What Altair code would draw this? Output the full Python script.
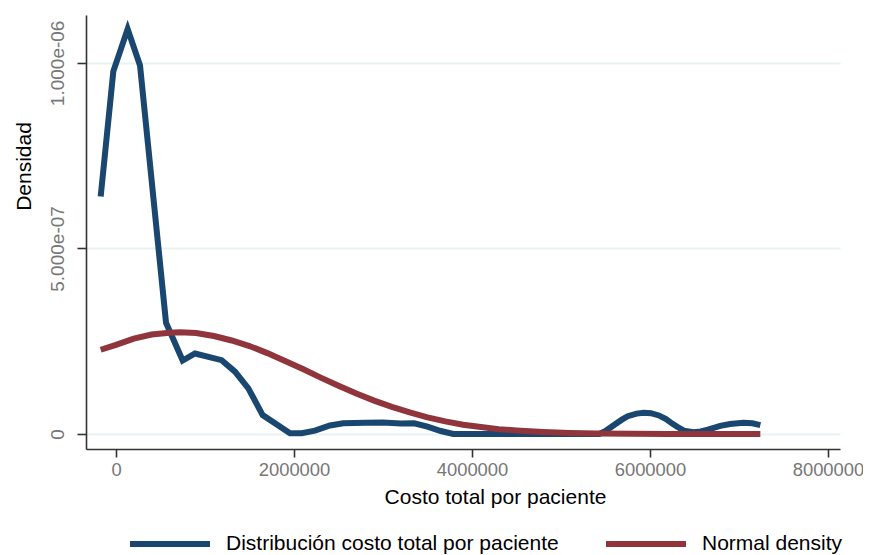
import altair as alt
import pandas as pd

SERIES = ["Distribución costo total por paciente", "Normal density"]
COLORS = ["#1a476f", "#90353b"]

# Kernel density: x in pesos, y density (x 1e-6)
kd_x = [-172000, -30000, 131000, 270000, 562000, 749000, 888000, 1187000, 1337000, 1487000,
        1648000, 1955000, 2086000, 2236000, 2404000, 2554000, 2800000, 3000000, 3200000, 3350000,
        3500000, 3650000, 3790000, 4500000, 5430000, 5500000, 5600000, 5680000, 5750000, 5850000,
        5930000, 6010000, 6100000, 6180000, 6250000, 6310000, 6380000, 6490000, 6570000, 6650000,
        6790000, 6900000, 7050000, 7150000, 7240000]
kd_y = [0.640, 0.977, 1.091, 0.993, 0.300, 0.198, 0.217, 0.199, 0.168, 0.123,
        0.051, 0.002, 0.002, 0.009, 0.023, 0.029, 0.030, 0.031, 0.028, 0.029,
        0.020, 0.008, 0.000, 0.000, 0.000, 0.008, 0.025, 0.038, 0.048, 0.055,
        0.057, 0.056, 0.050, 0.040, 0.028, 0.019, 0.009, 0.005, 0.007, 0.012,
        0.022, 0.027, 0.030, 0.029, 0.024]

# Normal density curve, x in pesos, y (x 1e-6)
nd_x = [-172000, 0, 200000, 400000, 600000, 720000, 900000, 1100000, 1300000, 1500000,
        1700000, 1900000, 2100000, 2300000, 2500000, 2700000, 2900000, 3100000, 3300000,
        3500000, 3700000, 3900000, 4100000, 4300000, 4500000, 4800000, 5100000, 5400000,
        5800000, 6200000, 6600000, 7000000, 7240000]
nd_y = [0.227, 0.240, 0.257, 0.268, 0.273, 0.274, 0.272, 0.264, 0.252, 0.237,
        0.218, 0.197, 0.175, 0.152, 0.130, 0.109, 0.090, 0.073, 0.058,
        0.045, 0.034, 0.025, 0.019, 0.013, 0.0095, 0.0055, 0.003, 0.0016,
        0.0006, 0.0002, 0.0001, 0.0, 0.0]

x_ticks = [0, 2000000, 4000000, 6000000, 8000000]
y_ticks = [0, 5e-7, 1e-6]
y_tick_labels = ["0", "5.000e-07", "1.000e-06"]

rows = []
for i, (x, y) in enumerate(zip(kd_x, kd_y)):
    rows.append({"x": x, "y": y * 1e-6, "s": SERIES[0], "o": i})
for i, (x, y) in enumerate(zip(nd_x, nd_y)):
    rows.append({"x": x, "y": y * 1e-6, "s": SERIES[1], "o": i})
df = pd.DataFrame(rows)

# label expression built from tick lists
expr = "''"
for v, lab in reversed(list(zip(y_ticks, y_tick_labels))):
    expr = f"abs(datum.value - {v}) < 1e-9 ? '{lab}' : ({expr})"

chart = alt.Chart(df).mark_line(strokeWidth=6, strokeCap="butt").encode(
    x=alt.X("x:Q", scale=alt.Scale(domain=[-337000, 8135000], nice=False, zero=False),
            axis=alt.Axis(values=x_ticks, format="d", title="Costo total por paciente",
                          grid=False, tickSize=8, labelPadding=3, labelFontSize=18.4,
                          labelColor="#777777", titleFontSize=21, titleColor="#000000",
                          titleFontWeight="normal", titleX=409, titleY=48, titleBaseline="middle",
                          domainColor="#333333", tickColor="#333333", domainWidth=1.6, tickWidth=1.6,
                          labelFlush=False)),
    y=alt.Y("y:Q", scale=alt.Scale(domain=[-4.04e-8, 1.129e-6], nice=False, zero=False),
            axis=alt.Axis(values=y_ticks, labelExpr=expr, title="Densidad",
                          grid=True, gridColor="#e8f1f3", gridWidth=2,
                          tickSize=9, labelPadding=10, labelFontSize=19, labelAngle=270,
                          labelColor="#777777", titleFontSize=21, titleColor="#000000",
                          titleFontWeight="normal", titleAngle=270, titleX=-62, titleY=151,
                          titleBaseline="middle", titleAlign="center",
                          domainColor="#333333", tickColor="#333333", domainWidth=1.6, tickWidth=1.6,
                          labelFlush=False)),
    color=alt.Color("s:N", scale=alt.Scale(domain=SERIES, range=COLORS),
                    legend=alt.Legend(title=None, orient="none", legendX=41, legendY=486,
                                      direction="horizontal", columns=2, columnPadding=35,
                                      symbolType="stroke", symbolSize=6400, symbolStrokeWidth=6,
                                      labelFontSize=21, labelLimit=600, labelOffset=13,
                                      labelColor="#000000")),
    order="o:Q",
).properties(
    width=754, height=434,
    autosize=alt.AutoSizeParams(type="none"),
    padding={"left": 78, "top": 7, "right": 23, "bottom": 106},
).configure(
    font="Liberation Sans"
).configure_view(strokeWidth=0, stroke=None)

chart.save("out.html", embed_options={"renderer": "svg", "actions": False})
